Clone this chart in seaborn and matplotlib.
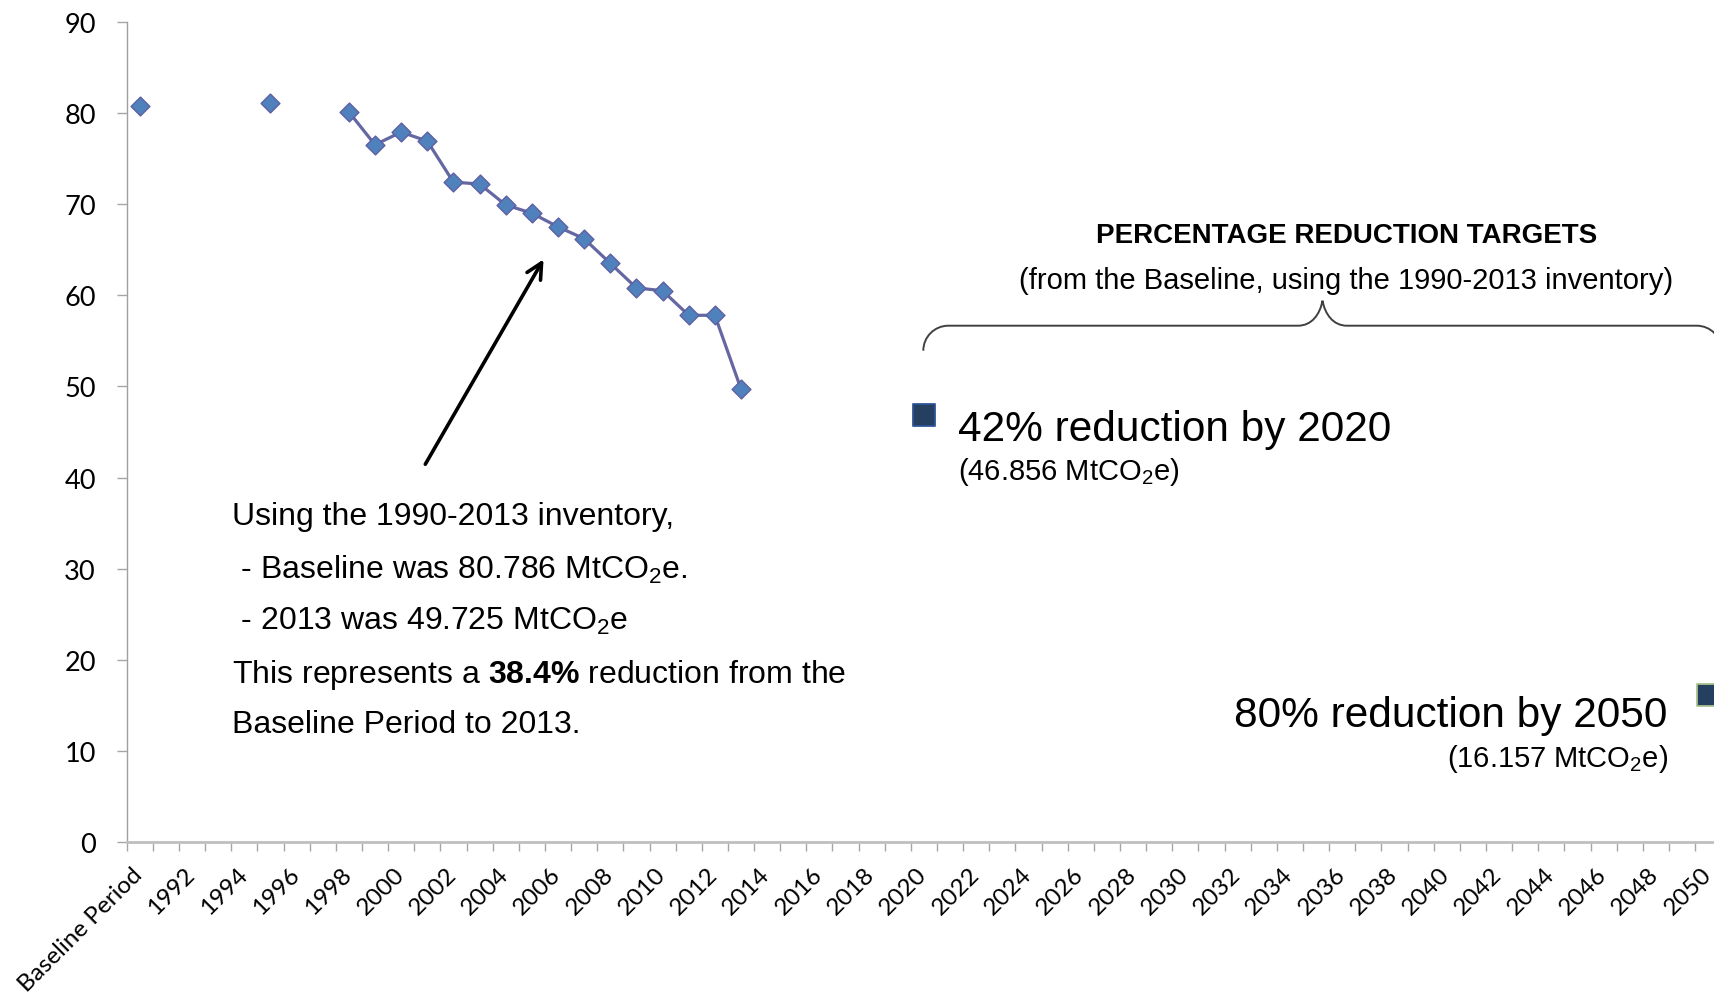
import matplotlib
matplotlib.use("Agg")
import matplotlib.pyplot as plt
import matplotlib.transforms as mtransforms
from matplotlib.path import Path
from matplotlib.patches import PathPatch
import pandas as pd
import seaborn as sns

# categories on the x axis: the baseline period, then every year to 2050
categories = ["Baseline Period"] + [str(y) for y in range(1991, 2051)]
tick_labels = categories[::2]

# inventory (MtCO2e)
hist_periods = ["Baseline Period", "1995", "1998", "1999", "2000", "2001", "2002",
                "2003", "2004", "2005", "2006", "2007", "2008", "2009", "2010",
                "2011", "2012", "2013"]
hist_values = [80.786, 81.1, 80.1, 76.5, 77.9, 76.9, 72.4, 72.2, 69.9, 69.0,
               67.5, 66.2, 63.5, 60.8, 60.5, 57.8, 57.8, 49.725]

# reduction targets (MtCO2e)
target_periods = ["2020", "2050"]
target_values = [46.856, 16.157]

W, H = 1715, 1003
sns.set_style("white")
plt.rcParams["font.family"] = ["Liberation Sans", "DejaVu Sans"]
plt.rcParams["text.color"] = "black"
plt.rcParams["xtick.labelcolor"] = "black"
plt.rcParams["ytick.labelcolor"] = "black"
plt.rcParams["mathtext.fontset"] = "custom"
plt.rcParams["mathtext.rm"] = "Liberation Sans"
plt.rcParams["mathtext.it"] = "Liberation Sans:italic"
plt.rcParams["mathtext.bf"] = "Liberation Sans:bold"

fig = plt.figure(figsize=(W / 100, H / 100), dpi=100)
ax = fig.add_axes([126.7 / W, 1 - 843.3 / H, 61 * 26.14 / W, (843.3 - 22.7) / H])

hist = pd.DataFrame({"period": hist_periods, "mt": hist_values})
hist["pos"] = [categories.index(p) for p in hist.period]
run = hist[hist.pos >= categories.index("1998")]

sns.lineplot(data=run, x="pos", y="mt", color="#6567A3", lw=2.3, ax=ax, zorder=2)
sns.scatterplot(data=hist, x="pos", y="mt", marker="D", s=92, color="#4F81BD",
                edgecolor="#5E60A2", linewidth=1, ax=ax, zorder=3)

targ = pd.DataFrame({"period": target_periods, "mt": target_values})
targ["pos"] = [categories.index(p) for p in targ.period]
sns.scatterplot(data=targ, x="pos", y="mt", marker="s", s=250, color="#243F60",
                linewidth=1.3, ax=ax, zorder=3)
ax.collections[-1].set_edgecolors(["#2F5597", "#A9C18B"])

ax.set_xlim(-0.5, len(categories) - 0.5)
ax.set_ylim(0, 90)
ax.set_xlabel("")
ax.set_ylabel("")

# x axis: labels at every other category (anchored a little left of the
# category centre), tick marks between categories
ax.set_xticks([i - 0.3 for i in range(0, len(categories), 2)])
ax.set_xticklabels(tick_labels, rotation=45, ha="right", va="top",
                   rotation_mode="anchor", fontfamily="Lato", fontsize=17.5)
ax.set_xticks([i - 0.5 for i in range(len(categories) + 1)], minor=True)
ax.tick_params(axis="x", which="major", length=0, pad=15)
ax.tick_params(axis="x", which="minor", length=6.7, width=1, color="#A6A6A6",
               direction="out", bottom=True)

ax.set_yticks(range(0, 91, 10))
ax.set_yticklabels([str(v) for v in range(0, 91, 10)], fontfamily="Lato", fontsize=19.5)
ax.tick_params(axis="y", length=7.2, width=1, color="#A6A6A6", pad=15, left=True)

sns.despine(ax=ax)
ax.spines["left"].set_color("#A0A0A0")
ax.spines["left"].set_linewidth(1)
ax.spines["bottom"].set_color("#BFBFBF")
ax.spines["bottom"].set_linewidth(2)

# annotation on the inventory
ax.annotate("", xy=(15.5, 64.2), xytext=(10.87, 41.2),
            arrowprops=dict(arrowstyle="->", lw=2.6, color="black", mutation_scale=28))
note_lines = [
    "Using the 1990-2013 inventory,",
    " - Baseline was 80.786 MtCO$_2$e.",
    " - 2013 was 49.725 MtCO$_2$e",
    r"This represents a $\mathbf{38.4\%}$ reduction from the",
    "Baseline Period to 2013.",
]
for line, yv in zip(note_lines, [35.8, 30.0, 24.3, 18.5, 13.0]):
    ax.text(3.53, yv, line, fontsize=23, va="center", ha="left")

# targets
ax.text(46.15, 66.6, "PERCENTAGE REDUCTION TARGETS", fontsize=20, fontweight="bold",
        ha="center", va="center")
ax.text(46.15, 61.7, "(from the Baseline, using the 1990-2013 inventory)", fontsize=21,
        ha="center", va="center")
ax.text(31.3, 45.3, "42% reduction by 2020", fontsize=30.5, ha="left", va="center")
ax.text(31.3, 40.7, "(46.856 MtCO$_2$e)", fontsize=21, ha="left", va="center")
ax.text(58.45, 14.0, "80% reduction by 2050", fontsize=30.5, ha="right", va="center")
ax.text(58.45, 9.3, "(16.157 MtCO$_2$e)", fontsize=21, ha="right", va="center")

# curly brace over the targets (pixel coordinates, y down)
px = mtransforms.Affine2D().scale(1 / W, -1 / H).translate(0, 1) + fig.transFigure
verts = [(923.3, 351.7), (923.3, 337.9), (934.5, 326.7), (948.3, 326.7),
         (1298, 326.7),
         (1312, 326.7), (1320, 315), (1322.5, 301.7),
         (1325, 315), (1333, 326.7), (1347, 326.7),
         (1696.7, 326.7),
         (1710.5, 326.7), (1721.7, 337.9), (1721.7, 351.7)]
codes = [Path.MOVETO, Path.CURVE4, Path.CURVE4, Path.CURVE4, Path.LINETO,
         Path.CURVE4, Path.CURVE4, Path.CURVE4, Path.CURVE4, Path.CURVE4, Path.CURVE4,
         Path.LINETO, Path.CURVE4, Path.CURVE4, Path.CURVE4]
fig.add_artist(PathPatch(Path(verts, codes), fill=False, lw=1.4, ec="#404040",
                         transform=px))

fig.savefig("out.png", dpi=100, facecolor="white")
